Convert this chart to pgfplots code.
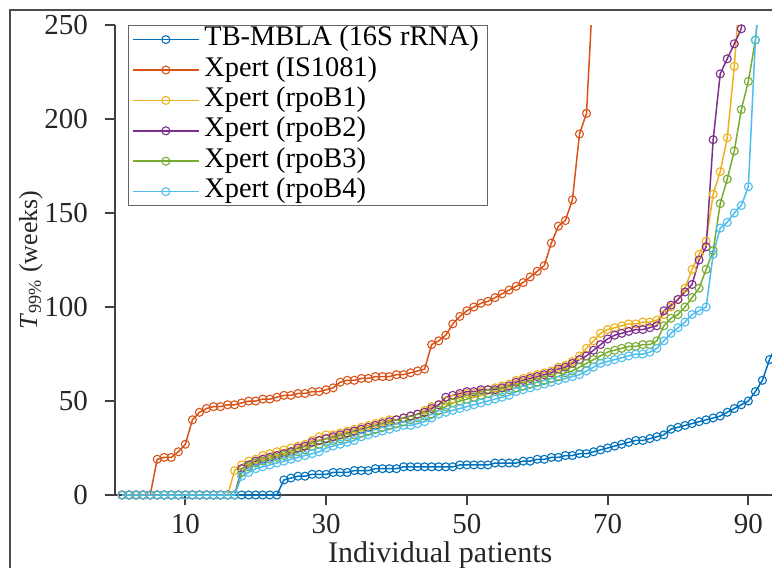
\documentclass[border=0pt]{standalone}
\usepackage{pgfplots}
\pgfplotsset{compat=1.18}
\usepackage{pgfplotstable}
\usepackage{fontspec}
\setmainfont{Liberation Serif}

\definecolor{cA}{rgb}{0,0.447,0.741}
\definecolor{cB}{rgb}{0.85,0.325,0.098}
\definecolor{cC}{rgb}{0.929,0.694,0.125}
\definecolor{cD}{rgb}{0.494,0.184,0.556}
\definecolor{cE}{rgb}{0.466,0.674,0.188}
\definecolor{cF}{rgb}{0.301,0.745,0.933}

% x = patient, A = TB-MBLA, B = IS1081, C..F = rpoB1..rpoB4
\pgfplotstableread{
x  A   B    C    D    E    F
1  0   0    0    0    0    0
2  0   0    0    0    0    0
3  0   0    0    0    0    0
4  0   0    0    0    0    0
5  0   0    0    0    0    0
6  0   19   0    0    0    0
7  0   20   0    0    0    0
8  0   20   0    0    0    0
9  0   23   0    0    0    0
10 0   27   0    0    0    0
11 0   40   0    0    0    0
12 0   44   0    0    0    0
13 0   46   0    0    0    0
14 0   47   0    0    0    0
15 0   47   0    0    0    0
16 0   48   0    0    0    0
17 0   48   13   0    0    0
18 0   49   16   14   12   10
19 0   50   18   16   15   12
20 0   50   19   18   17   14
21 0   51   21   19   18   15
22 0   51   22   20   19   16
23 0   52   23   21   20   17
24 8   53   24   22   21   18
25 9   53   25   23   22   19
26 10  54   26   25   23   20
27 10  54   27   26   24   21
28 11  55   29   28   26   22
29 11  55   31   29   27   23
30 11  56   32   30   28   25
31 12  57   32   31   29   26
32 12  60   33   32   30   27
33 12  61   34   33   31   28
34 13  61   35   34   32   29
35 13  62   36   35   33   31
36 13  62   37   36   34   32
37 14  63   38   37   35   33
38 14  63   39   38   36   34
39 14  63   40   39   37   35
40 14  64   40   40   38   36
41 15  64   41   41   39   37
42 15  65   42   42   40   37
43 15  66   43   43   41   38
44 15  67   45   44   42   39
45 15  80   47   46   43   41
46 15  82   48   48   45   43
47 15  85   50   52   47   44
48 15  91   51   53   49   45
49 16  95   53   54   50   46
50 16  98   54   55   51   47
51 16  100  54   55   52   48
52 16  102  55   56   53   49
53 16  103  56   56   54   50
54 17  105  57   56   55   51
55 17  107  58   57   55   52
56 17  109  59   58   56   53
57 17  111  61   60   57   55
58 18  113  62   61   58   56
59 18  116  63   62   59   57
60 19  119  64   63   60   58
61 19  122  65   64   61   59
62 20  134  66   65   62   60
63 20  143  68   67   63   61
64 21  146  69   68   65   62
65 21  157  71   70   66   63
66 22  192  74   72   68   64
67 22  203  78   74   70   66
68 23  275  82   77   72   68
69 24  nan  86   80   74   70
70 25  nan  88   83   76   71
71 26  nan  89   85   77   72
72 27  nan  90   86   78   73
73 28  nan  91   87   79   74
74 29  nan  91   88   79   75
75 29  nan  92   88   80   75
76 30  nan  92   89   80   76
77 31  nan  93   90   82   78
78 32  nan  96   98   90   82
79 35  nan  100  101  94   86
80 36  nan  104  104  96   89
81 37  nan  110  108  100  92
82 38  nan  120  112  105  96
83 39  nan  128  125  110  98
84 40  nan  135  132  120  100
85 41  nan  160  189  130  128
86 42  nan  172  224  155  142
87 44  nan  190  232  168  145
88 46  nan  228  240  183  150
89 48  nan  280  248  205  154
90 50  nan  nan  300  220  164
91 55  nan  nan  nan  242  242
92 61  nan  nan  nan  280  280
93 72  nan  nan  nan  nan  nan
94 80  nan  nan  nan  nan  nan
}\tdata

\begin{document}
\begin{tikzpicture}
\path[use as bounding box] (0,0) rectangle (386pt,284pt);
\draw[line width=1pt, black!70] (5pt,-2pt) -- (5pt,279pt) -- (388pt,279pt);
\begin{axis}[
  at={(57.5pt,36.5pt)}, anchor=south west,
  scale only axis, width=328.5pt, height=235pt,
  xmin=0, xmax=93.36, ymin=0, ymax=250,
  axis x line*=bottom, axis y line*=left,
  axis line style={black!75, line width=0.9pt},
  xtick={10,30,50,70,90}, ytick={0,50,...,250},
  tick align=outside, major tick length=5pt,
  tick style={black!75, line width=0.9pt},
  tick label style={font=\fontsize{14.5}{16}\selectfont, black!85},
  xticklabel style={yshift=-1pt},
  yticklabel style={xshift=-5pt},
  /pgf/number format/assume math mode=true,
  xlabel={Individual patients},
  ylabel={\textit{T}\textsubscript{99\%} (weeks)},
  xlabel style={font=\fontsize{15}{17}\selectfont, black!85,
    at={(axis description cs:0.495,-0.143)}, anchor=base},
  ylabel style={font=\fontsize{13}{15}\selectfont, black!85,
    at={(axis description cs:-0.1187,0.5)}, anchor=base},
  legend style={at={(0.0198,1)}, anchor=north west, draw=black!60,
    line width=0.6pt, font=\fontsize{14.2}{15}\selectfont,
    inner xsep=1.75pt, inner ysep=0pt, row sep=1.2pt,
    nodes={inner xsep=2.4pt, inner ysep=0pt, text height=10pt, text depth=4pt}},
  legend cell align=left,
  legend image code/.code={\draw[#1, mark repeat=2, mark phase=2]
    plot coordinates {(0pt,0pt)(16.5pt,0pt)(33pt,0pt)};},
  every axis plot/.append style={line width=0.75pt, mark=o, mark size=2pt,
    mark options={solid, line width=0.55pt}},
]
\addplot[cA] table[x=x, y=A] {\tdata};
\addplot[cB] table[x=x, y=B] {\tdata};
\addplot[cC] table[x=x, y=C] {\tdata};
\addplot[cD] table[x=x, y=D] {\tdata};
\addplot[cE] table[x=x, y=E] {\tdata};
\addplot[cF] table[x=x, y=F] {\tdata};
\legend{TB-MBLA (16S rRNA), Xpert (IS1081), Xpert (rpoB1), Xpert (rpoB2), Xpert (rpoB3), Xpert (rpoB4)}
\end{axis}
\end{tikzpicture}
\end{document}
